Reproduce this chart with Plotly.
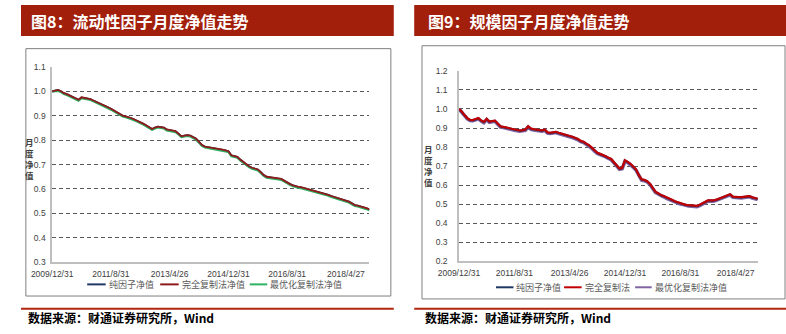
import pandas as pd
import plotly.graph_objects as go

W, H = 786, 334

# ---------------- data ----------------
DATES = [d.strftime("%Y/%-m/%-d") for d in pd.date_range("2009-12-31", periods=109, freq="ME")]
DATES[40] = "2013/4/26"
DATES[100] = "2018/4/27"
TICK_LABELS = ["2009/12/31", "2011/8/31", "2013/4/26", "2014/12/31", "2016/8/31", "2018/4/27"]

LIQ_PURE = [1.000,1.003,1.005,1.000,0.992,0.988,0.983,0.976,0.970,0.965,
            0.975,0.973,0.971,0.968,0.962,0.957,0.950,0.945,0.940,0.934,
            0.928,0.921,0.913,0.905,0.900,0.897,0.894,0.889,0.884,0.879,
            0.874,0.867,0.860,0.852,0.845,0.851,0.855,0.853,0.851,0.843,
            0.840,0.839,0.836,0.826,0.815,0.818,0.820,0.818,0.812,0.805,
            0.792,0.779,0.773,0.771,0.770,0.768,0.766,0.764,0.760,0.757,
            0.754,0.737,0.734,0.731,0.720,0.710,0.701,0.692,0.686,0.682,
            0.679,0.668,0.656,0.649,0.648,0.646,0.645,0.642,0.640,0.632,
            0.624,0.619,0.614,0.609,0.607,0.605,0.602,0.598,0.595,0.592,
            0.589,0.586,0.583,0.579,0.575,0.570,0.566,0.562,0.559,0.556,
            0.551,0.547,0.540,0.533,0.531,0.528,0.525,0.520,0.515]
LIQ_FULL = [1.000,1.004,1.006,1.001,0.993,0.989,0.984,0.977,0.971,0.966,
            0.976,0.974,0.972,0.969,0.963,0.958,0.951,0.946,0.941,0.935,
            0.929,0.922,0.914,0.906,0.901,0.898,0.895,0.890,0.885,0.880,
            0.875,0.868,0.861,0.853,0.846,0.852,0.856,0.854,0.852,0.844,
            0.841,0.840,0.837,0.827,0.816,0.819,0.821,0.819,0.813,0.806,
            0.793,0.780,0.774,0.772,0.771,0.769,0.767,0.765,0.761,0.758,
            0.755,0.738,0.735,0.732,0.721,0.711,0.702,0.693,0.687,0.683,
            0.680,0.669,0.657,0.650,0.649,0.647,0.646,0.643,0.641,0.633,
            0.625,0.620,0.615,0.610,0.608,0.606,0.603,0.599,0.596,0.593,
            0.590,0.587,0.584,0.580,0.576,0.571,0.567,0.563,0.560,0.557,
            0.552,0.548,0.541,0.534,0.532,0.529,0.526,0.521,0.516]
LIQ_OPT = [1.000,1.000,1.002,0.997,0.989,0.985,0.980,0.973,0.967,0.962,
           0.972,0.970,0.968,0.965,0.959,0.954,0.947,0.942,0.937,0.931,
           0.925,0.918,0.910,0.902,0.897,0.894,0.891,0.886,0.881,0.876,
           0.871,0.864,0.857,0.849,0.842,0.848,0.852,0.850,0.848,0.840,
           0.837,0.836,0.833,0.823,0.812,0.815,0.817,0.815,0.809,0.802,
           0.789,0.776,0.770,0.768,0.767,0.765,0.763,0.761,0.757,0.754,
           0.751,0.734,0.731,0.728,0.717,0.707,0.698,0.689,0.683,0.679,
           0.676,0.665,0.653,0.646,0.645,0.643,0.642,0.639,0.637,0.629,
           0.621,0.616,0.611,0.606,0.604,0.602,0.599,0.595,0.592,0.589,
           0.586,0.583,0.580,0.576,0.572,0.567,0.563,0.559,0.556,0.553,
           0.548,0.544,0.537,0.530,0.528,0.525,0.522,0.517,0.512]

SIZE_PURE = [1.000,0.985,0.966,0.950,0.941,0.940,0.945,0.950,0.938,0.930,
             0.946,0.932,0.935,0.937,0.922,0.907,0.904,0.902,0.898,0.894,
             0.890,0.887,0.885,0.887,0.890,0.907,0.895,0.892,0.890,0.887,
             0.885,0.890,0.875,0.873,0.876,0.878,0.873,0.868,0.862,0.859,
             0.856,0.852,0.847,0.840,0.830,0.826,0.816,0.808,0.795,0.780,
             0.768,0.762,0.757,0.750,0.742,0.735,0.718,0.700,0.685,0.688,
             0.728,0.720,0.710,0.695,0.680,0.650,0.628,0.625,0.618,0.605,
             0.585,0.563,0.555,0.545,0.540,0.532,0.525,0.520,0.513,0.508,
             0.502,0.499,0.494,0.492,0.490,0.489,0.488,0.494,0.501,0.510,
             0.517,0.518,0.517,0.521,0.527,0.530,0.535,0.541,0.550,0.537,
             0.534,0.535,0.534,0.536,0.538,0.540,0.534,0.530,0.526]
SIZE_FULL = [1.000,0.987,0.968,0.952,0.943,0.942,0.947,0.952,0.940,0.932,
             0.948,0.934,0.937,0.939,0.924,0.909,0.906,0.904,0.900,0.896,
             0.892,0.889,0.887,0.889,0.892,0.909,0.897,0.894,0.892,0.889,
             0.887,0.892,0.877,0.875,0.878,0.880,0.875,0.870,0.864,0.861,
             0.858,0.854,0.849,0.842,0.832,0.828,0.818,0.810,0.797,0.782,
             0.770,0.764,0.759,0.752,0.744,0.737,0.720,0.702,0.687,0.690,
             0.730,0.722,0.712,0.697,0.682,0.652,0.630,0.627,0.620,0.607,
             0.587,0.565,0.557,0.547,0.542,0.534,0.527,0.522,0.515,0.510,
             0.504,0.501,0.496,0.494,0.492,0.491,0.490,0.496,0.503,0.512,
             0.519,0.520,0.519,0.523,0.529,0.532,0.537,0.543,0.552,0.539,
             0.536,0.537,0.536,0.538,0.540,0.542,0.536,0.532,0.528]
SIZE_OPT = [1.000,0.983,0.964,0.948,0.939,0.938,0.943,0.948,0.936,0.928,
            0.944,0.930,0.933,0.935,0.920,0.905,0.902,0.900,0.896,0.892,
            0.888,0.885,0.883,0.885,0.888,0.905,0.893,0.890,0.888,0.885,
            0.883,0.888,0.873,0.871,0.874,0.876,0.871,0.866,0.860,0.857,
            0.854,0.850,0.845,0.838,0.828,0.824,0.814,0.806,0.793,0.778,
            0.766,0.760,0.755,0.748,0.740,0.733,0.716,0.698,0.683,0.686,
            0.726,0.718,0.708,0.693,0.678,0.648,0.626,0.623,0.616,0.603,
            0.583,0.561,0.553,0.543,0.538,0.530,0.523,0.518,0.511,0.506,
            0.500,0.497,0.492,0.490,0.488,0.487,0.486,0.492,0.499,0.508,
            0.515,0.516,0.515,0.519,0.525,0.528,0.533,0.539,0.548,0.535,
            0.532,0.533,0.532,0.534,0.536,0.538,0.532,0.528,0.524]

LEFT_NAMES = ["纯因子净值", "完全复制法净值", "最优化复制法净值"]
RIGHT_NAMES = ["纯因子净值", "完全复制法", "最优化复制法净值"]
LEFT_TITLE = "图8：流动性因子月度净值走势"
RIGHT_TITLE = "图9：规模因子月度净值走势"
SOURCE = "数据来源：财通证券研究所，Wind"
Y_TITLE = "月度净值"

# ---------------- helpers ----------------
def px(x):
    return x / W

def py(y):
    return 1 - y / H

BAR_RED = "#A21F0B"
NAVY = "#1F3864"
CJK = "Noto Sans CJK SC"
TICKF = dict(family="Liberation Sans, Arial", size=8.5, color="#404040")

fig = go.Figure()

# left traces (draw order: navy, green, red on top)
fig.add_trace(go.Scatter(x=DATES, y=LIQ_PURE, mode="lines", line=dict(color=NAVY, width=2.2),
                         name=LEFT_NAMES[0], showlegend=False, xaxis="x", yaxis="y"))
fig.add_trace(go.Scatter(x=DATES, y=LIQ_OPT, mode="lines", line=dict(color="#2FB163", width=2),
                         name=LEFT_NAMES[2], showlegend=False, xaxis="x", yaxis="y"))
fig.add_trace(go.Scatter(x=DATES, y=LIQ_FULL, mode="lines", line=dict(color="#8E1B1B", width=1.8),
                         name=LEFT_NAMES[1], showlegend=False, xaxis="x", yaxis="y"))

# right traces
fig.add_trace(go.Scatter(x=DATES, y=SIZE_OPT, mode="lines", line=dict(color="#8064A2", width=3.5),
                         name=RIGHT_NAMES[2], showlegend=False, xaxis="x2", yaxis="y2"))
fig.add_trace(go.Scatter(x=DATES, y=SIZE_PURE, mode="lines", line=dict(color=NAVY, width=2),
                         name=RIGHT_NAMES[0], showlegend=False, xaxis="x2", yaxis="y2"))
fig.add_trace(go.Scatter(x=DATES, y=SIZE_FULL, mode="lines", line=dict(color="#C00000", width=2.2),
                         name=RIGHT_NAMES[1], showlegend=False, xaxis="x2", yaxis="y2"))

xcommon = dict(type="category", range=[0, 108], tickmode="array", tickvals=TICK_LABELS,
               ticktext=TICK_LABELS, showgrid=False, zeroline=False, showline=True,
               linecolor="#BFBFBF", linewidth=1.5, ticks="", tickfont=TICKF,
               tickangle=0, ticklabelstandoff=3)
ycommon = dict(showgrid=True, gridcolor="#595959", gridwidth=1, griddash="4px,3px",
               zeroline=False, showline=True, linecolor="#BFBFBF", linewidth=1.5,
               ticks="", tickfont=TICKF, tickformat=".1f")

fig.update_layout(
    width=W, height=H, margin=dict(l=0, r=0, t=0, b=0),
    paper_bgcolor="white", plot_bgcolor="white", showlegend=False,
    xaxis=dict(domain=[px(32), px(358)], anchor="y", **xcommon),
    yaxis=dict(domain=[py(265), py(64)], anchor="x", range=[0.3, 1.1], ticklabelstandoff=3,
               tickvals=[0.3, 0.4, 0.5, 0.6, 0.7, 0.8, 0.9, 1.0, 1.1], **ycommon),
    xaxis2=dict(domain=[px(450), px(757)], anchor="y2", **xcommon),
    yaxis2=dict(domain=[py(264), py(68)], anchor="x2", range=[0.2, 1.2], ticklabelstandoff=8,
                tickvals=[0.2, 0.3, 0.4, 0.5, 0.6, 0.7, 0.8, 0.9, 1.0, 1.1, 1.2], **ycommon),
)

shapes = []
annotations = []

# title bars
for x0, x1, title, tx in [(0, 383, LEFT_TITLE, 8), (404, 786, RIGHT_TITLE, 416)]:
    shapes.append(dict(type="rect", xref="paper", yref="paper", x0=px(x0), x1=px(x1),
                       y0=py(32), y1=py(0), fillcolor=BAR_RED, line=dict(width=0), layer="below"))
    annotations.append(dict(xref="paper", yref="paper", x=px(tx), y=py(16), text="<b>" + title + "</b>",
                            showarrow=False, xanchor="left", yanchor="middle",
                            font=dict(family=CJK, size=16, color="white")))

# chart boxes
for x0, x1, y0, y1 in [(5, 380, 45, 300), (412, 785, 42, 303)]:
    shapes.append(dict(type="rect", xref="paper", yref="paper", x0=px(x0), x1=px(x1),
                       y0=py(y1), y1=py(y0), line=dict(color="#7F7F7F", width=1),
                       fillcolor="rgba(0,0,0,0)", layer="below"))

# source lines + text
for x0, x1, tx in [(0, 383, 5), (404, 786, 413)]:
    shapes.append(dict(type="line", xref="paper", yref="paper", x0=px(x0), x1=px(x1),
                       y0=py(313), y1=py(313), line=dict(color="#B0260F", width=2)))
    annotations.append(dict(xref="paper", yref="paper", x=px(tx), y=py(322), text="<b>" + SOURCE + "</b>",
                            showarrow=False, xanchor="left", yanchor="middle",
                            font=dict(family=CJK, size=12, color="black")))

# y-axis titles (stacked vertical characters)
for tx, ty in [(9, 158), (419, 165)]:
    annotations.append(dict(xref="paper", yref="paper", x=px(tx), y=py(ty),
                            text="<b>" + "<br>".join(Y_TITLE) + "</b>", showarrow=False,
                            xanchor="center", yanchor="middle", borderpad=0,
                            font=dict(family=CJK, size=8.5, color="#404040")))

# custom legends
LEFT_LEG = [(68, 87, "#1F3864", LEFT_NAMES[0]), (143, 162, "#8E1B1B", LEFT_NAMES[1]),
            (235, 253, "#2FB163", LEFT_NAMES[2])]
RIGHT_LEG = [(488, 506, "#1F3864", RIGHT_NAMES[0]), (558, 576, "#C00000", RIGHT_NAMES[1]),
             (631, 648, "#8064A2", RIGHT_NAMES[2])]
for items, ly in [(LEFT_LEG, 288), (RIGHT_LEG, 291)]:
    for x0, x1, col, name in items:
        shapes.append(dict(type="line", xref="paper", yref="paper", x0=px(x0), x1=px(x1),
                           y0=py(ly), y1=py(ly), line=dict(color=col, width=2)))
        annotations.append(dict(xref="paper", yref="paper", x=px(x1 + 1), y=py(ly), text=name,
                                showarrow=False, xanchor="left", yanchor="middle",
                                font=dict(family=CJK, size=9, color="#595959")))

fig.update_layout(shapes=shapes, annotations=annotations)
fig.write_html("out.html")
